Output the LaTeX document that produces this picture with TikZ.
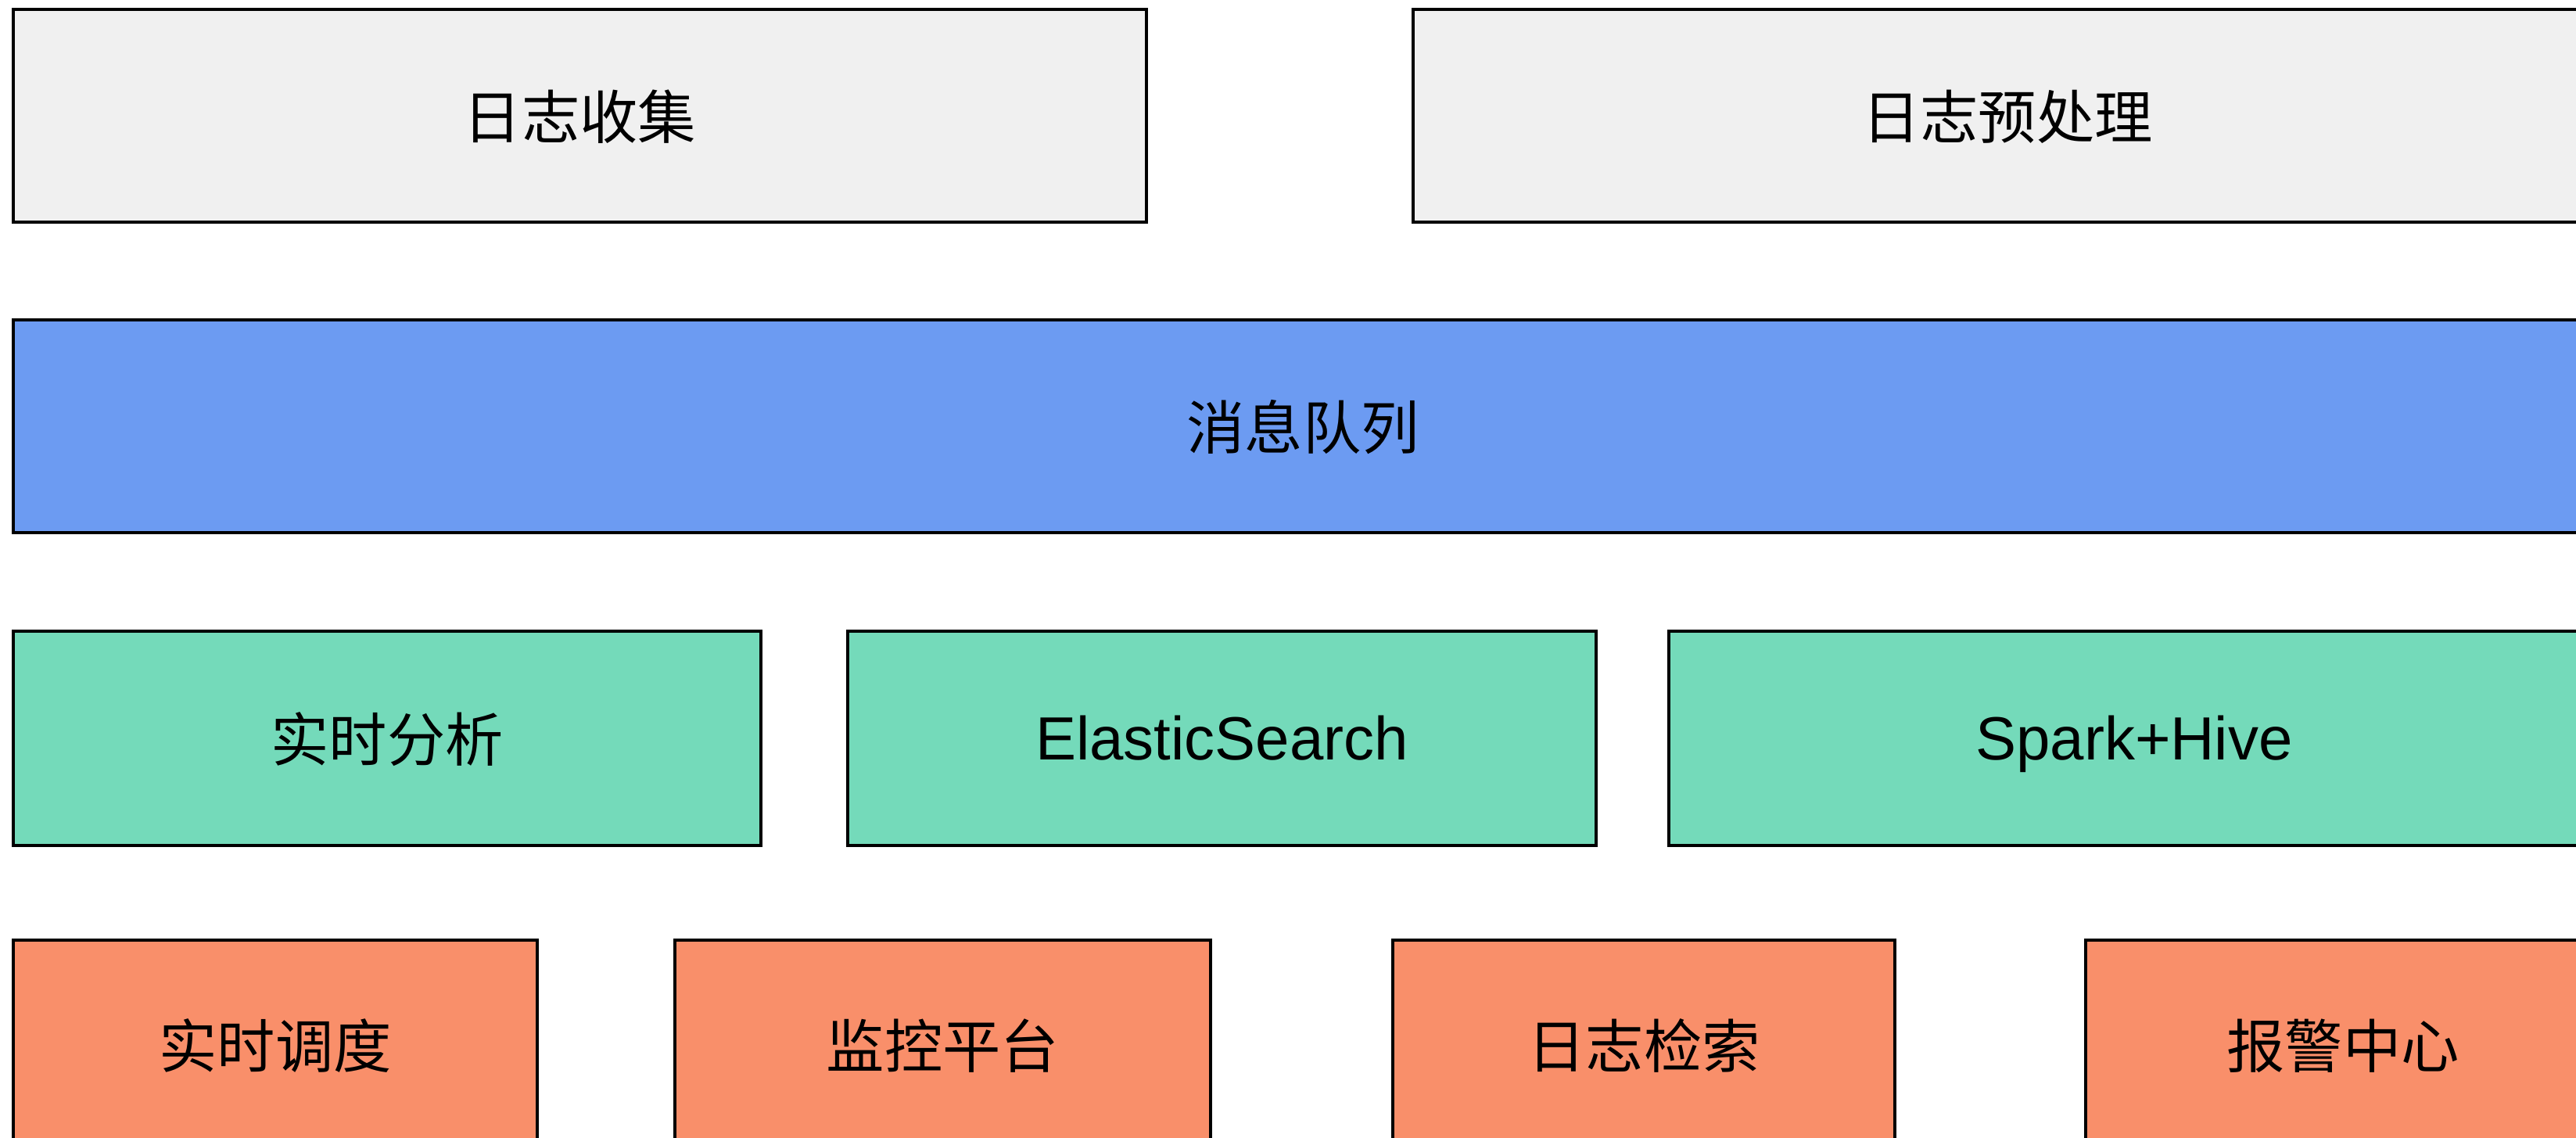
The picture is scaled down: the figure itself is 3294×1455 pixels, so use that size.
\documentclass[tikz,border=0pt]{standalone}
\usepackage{fontspec}
\setmainfont{Liberation Sans}
\newfontfamily\cjk{Noto Sans CJK SC}
\definecolor{greyfill}{RGB}{240,240,240}
\definecolor{bluefill}{RGB}{108,155,242}
\definecolor{greenfill}{RGB}{116,218,186}
\definecolor{orangefill}{RGB}{249,143,106}
\begin{document}
\begin{tikzpicture}[x=0.3pt,y=-0.3pt,
  box/.style={draw=black, line width=1.1pt, inner sep=0pt, rectangle, text=black},
  cjkt/.style={font=\cjk\fontsize{22.3}{26}\selectfont, text height=17.5pt, text depth=0pt},
  latt/.style={font=\fontsize{23.4}{28}\selectfont, text height=16.75pt, text depth=0pt},
  greybox/.style={box, fill=greyfill, minimum height=81.6pt},
  bluebox/.style={box, fill=bluefill, minimum height=81.6pt},
  greenbox/.style={box, fill=greenfill, minimum height=82.2pt},
  orangebox/.style={box, fill=orangefill, minimum height=80.4pt}]
\useasboundingbox (0,0) rectangle (3294,1455);
\clip (0,0) rectangle (3294,1455);
\fill[white] (0,0) rectangle (3294,1455);
% row 1
\node[greybox, cjkt, minimum width=434.7pt] (collect) at (741.5,148) {日志收集};
\node[greybox, cjkt, minimum width=456pt] (preproc) at (2567,148) {日志预处理};
% row 2
\node[bluebox, cjkt, minimum width=989.4pt] (mq) at (1666,545) {消息队列};
% row 3
\node[greenbox, cjkt, minimum width=286.8pt] (rt) at (495,944) {实时分析};
\node[greenbox, latt, minimum width=287.1pt] (es) at (1562.5,944) {ElasticSearch};
\node[greenbox, latt, minimum width=357pt] (sh) at (2729,944) {Spark+Hive};
% row 4
\node[orangebox, cjkt, minimum width=201pt] (sched) at (352,1336) {实时调度};
\node[orangebox, cjkt, minimum width=205.5pt] (mon) at (1205.5,1336) {监控平台};
\node[orangebox, cjkt, minimum width=192.6pt] (search) at (2102,1336) {日志检索};
\node[orangebox, cjkt, minimum width=197.4pt] (alarm) at (2996,1336) {报警中心};
\end{tikzpicture}
\end{document}
